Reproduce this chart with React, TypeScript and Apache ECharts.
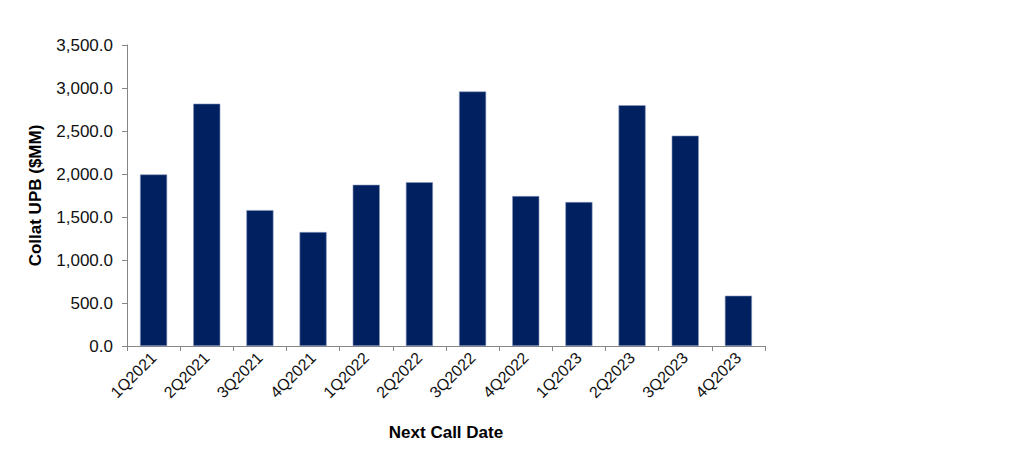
import React, { useEffect, useRef } from "react";
import * as echarts from "echarts";

const categories = ["1Q2021", "2Q2021", "3Q2021", "4Q2021", "1Q2022", "2Q2022", "3Q2022", "4Q2022", "1Q2023", "2Q2023", "3Q2023", "4Q2023"];
const values = [1995, 2818, 1580, 1325, 1875, 1905, 2960, 1744, 1674, 2800, 2446, 585];
const yTicks = { min: 0, max: 3500, interval: 500 };
const xTitle = "Next Call Date";
const yTitle = "Collat UPB ($MM)";

export default function App() {
  const ref = useRef<HTMLDivElement>(null);
  useEffect(() => {
    if (!ref.current) return;
    const chart = echarts.init(ref.current, undefined, { renderer: "svg" });
    const font = "Liberation Sans, Arial, sans-serif";
    chart.setOption({
      animation: false,
      backgroundColor: "#ffffff",
      grid: { left: 119, right: 251, top: 37, bottom: 119, containLabel: false },
      xAxis: {
        type: "category",
        data: categories,
        name: xTitle,
        nameLocation: "middle",
        nameGap: 78,
        nameTextStyle: { fontFamily: font, fontSize: 17, fontWeight: "bold", color: "#000" },
        axisLine: { lineStyle: { color: "#868686", width: 1 } },
        axisTick: { show: true, alignWithLabel: false, length: 5, lineStyle: { color: "#868686" } },
        axisLabel: { rotate: 45, fontFamily: font, fontSize: 16, color: "#111", margin: 9, interval: 0 },
      },
      yAxis: {
        type: "value",
        min: yTicks.min,
        max: yTicks.max,
        interval: yTicks.interval,
        name: yTitle,
        nameLocation: "middle",
        nameGap: 83,
        nameTextStyle: { fontFamily: font, fontSize: 17, fontWeight: "bold", color: "#000" },
        axisLine: { show: true, lineStyle: { color: "#868686", width: 1 } },
        axisTick: { show: true, length: 5, lineStyle: { color: "#868686" } },
        splitLine: { show: false },
        axisLabel: {
          fontFamily: font,
          fontSize: 17,
          color: "#111",
          margin: 14,
          formatter: (v: number) => v.toLocaleString("en-US", { minimumFractionDigits: 1, maximumFractionDigits: 1 }),
        },
      },
      series: [
        {
          type: "bar",
          data: values,
          barWidth: "51%",
          itemStyle: { color: "#002060", borderColor: "#8c9bbf", borderWidth: 0.6 },
        },
      ],
    });
    return () => chart.dispose();
  }, []);
  return <div ref={ref} style={{ width: 1008, height: 457 }} />;
}
